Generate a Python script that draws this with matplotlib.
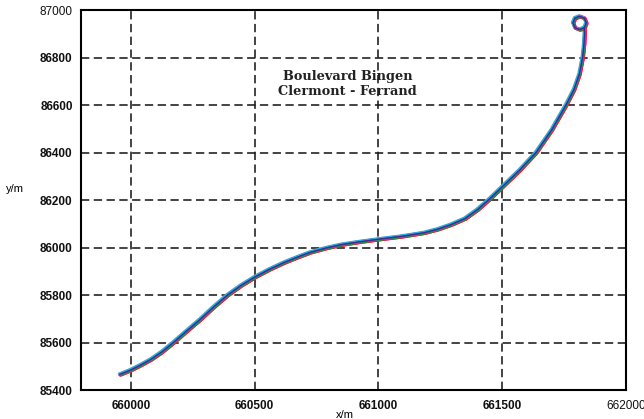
import matplotlib
matplotlib.use('Agg')
import matplotlib.pyplot as plt
from matplotlib.transforms import offset_copy

# ------------------------------ Data ------------------------------------------
# trajectory (x/m, y/m); small loop at the end of the track
track_x = [659955, 660000, 660040, 660080, 660125, 660172, 660225, 660280,
           660335, 660391, 660445, 660500, 660560, 660620, 660675, 660726,
           660790, 660850, 660925, 661003, 661095, 661185, 661240, 661293,
           661350, 661401, 661450, 661502, 661570, 661637, 661700, 661758,
           661790, 661812, 661825, 661831, 661833,
           661832, 661840, 661832, 661813, 661794, 661786, 661794, 661813,
           661830]
track_y = [85465, 85484, 85505, 85528, 85560, 85600, 85648, 85697,
           85750, 85800, 85840, 85875, 85908, 85937, 85960, 85980,
           85998, 86012, 86024, 86035, 86047, 86062, 86077, 86096,
           86122, 86160, 86205, 86257, 86325, 86400, 86495, 86600,
           86665, 86730, 86800, 86860, 86900,
           86925, 86946, 86966, 86974, 86966, 86946, 86926, 86918,
           86925]

x_ticks = [660000, 660500, 661000, 661500, 662000]
y_ticks = [85400, 85600, 85800, 86000, 86200, 86400, 86600, 86800, 87000]
x_lim = (659798, 662000)
y_lim = (85400, 87000)
site_label = 'Boulevard Bingen\nClermont - Ferrand'
site_pos = (660876, 86689)

# several overlapping runs: (colour, linewidth, dx, dy in points)
runs = [
    ('#ec008c', 2.8, 0.25, -0.1),
    ('#29abe2', 1.6, -0.7, 0.7),
    ('#ed1c24', 1.4, 0.8, -0.8),
    ('#00a651', 1.3, 0.4, -0.45),
    ('#c2208e', 1.0, 0.1, 0.0),
    ('#2e3192', 0.9, -0.1, 0.1),
]

# ------------------------------ Plot ------------------------------------------
plt.rcParams['font.family'] = ['Liberation Sans', 'DejaVu Sans']

fig = plt.figure(figsize=(6.44, 4.19), dpi=100)
ax = fig.add_axes([0.1258, 0.0692, 0.972 - 0.1258, 0.9757 - 0.0692])

for col, lw, dx, dy in runs:
    tr = offset_copy(ax.transData, fig=fig, x=dx, y=dy, units='points')
    ax.plot(track_x, track_y, color=col, linewidth=lw, transform=tr,
            solid_capstyle='round', solid_joinstyle='round')

ax.set_xlim(x_lim)
ax.set_ylim(y_lim)
ax.set_xticks(x_ticks)
ax.set_yticks(y_ticks)
ax.set_xticklabels([str(v) for v in x_ticks])
ax.set_yticklabels([str(v) for v in y_ticks])
ax.tick_params(length=0, labelsize=8.5, colors='#111111')
ax.tick_params(axis='x', pad=7)
ax.tick_params(axis='y', pad=6)
for lab in ax.get_xticklabels()[:-1] + ax.get_yticklabels()[:-1]:
    lab.set_fontweight('bold')

ax.grid(True, color='#1a1a1a', linewidth=1.15, linestyle=(0, (5.2, 2.8)))
ax.set_axisbelow(True)
for sp in ax.spines.values():
    sp.set_linewidth(1.5)
    sp.set_color('black')

ax.set_xlabel('x/m', fontsize=8)
ax.xaxis.set_label_coords(0.485, -0.052)
ax.set_ylabel('y/m', fontsize=8, rotation=0)
ax.yaxis.set_label_coords(-0.122, 0.515)

ax.text(site_pos[0], site_pos[1], site_label, ha='center', va='center',
        fontsize=9.3, fontweight='bold', family='DejaVu Serif',
        color='#222222', linespacing=1.2)

fig.savefig('out.png', dpi=100)
